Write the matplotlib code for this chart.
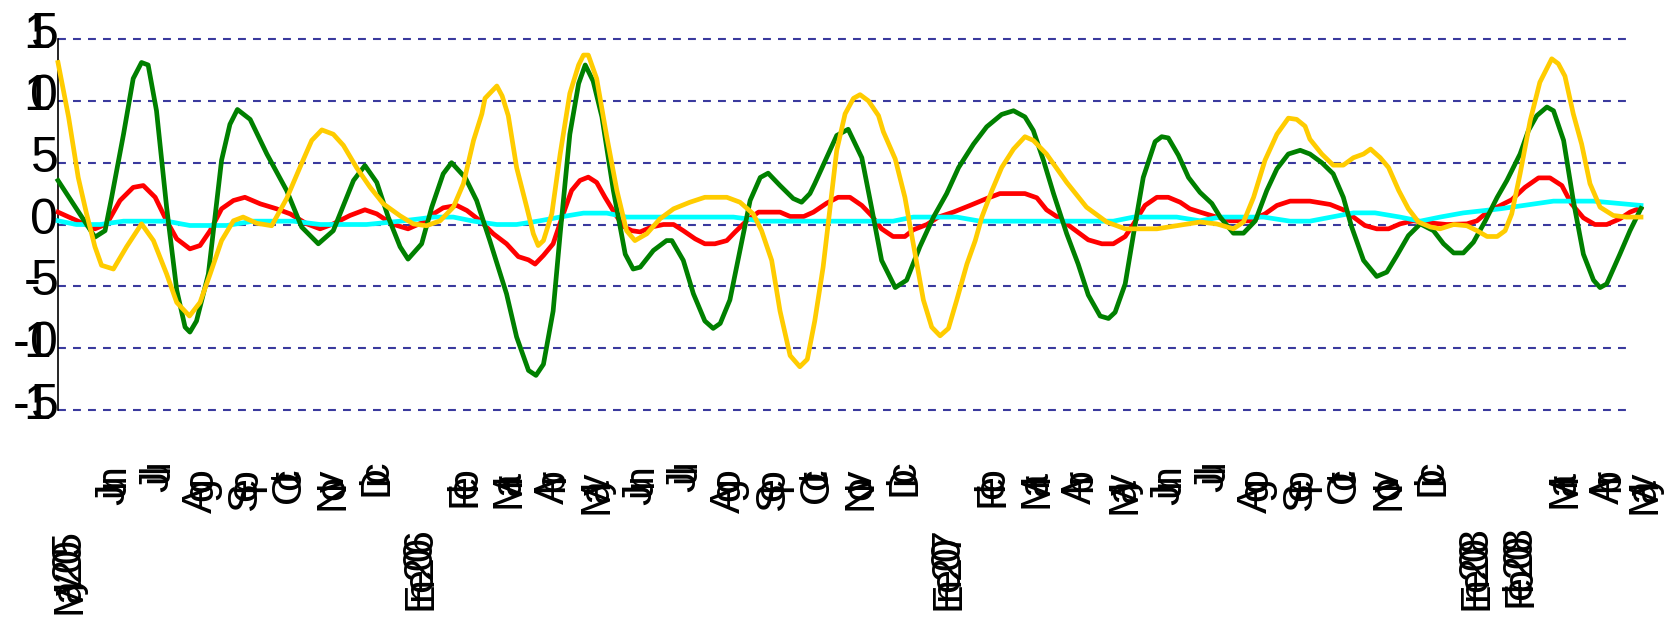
import matplotlib
matplotlib.use("Agg")
import matplotlib.pyplot as plt
from matplotlib.transforms import IdentityTransform

# x values are month offsets: 0 = May 2005, 36 = May 2008
red_x = [0, 0.5, 0.84, 1.11, 1.41, 1.71, 1.94, 2.21, 2.47, 2.7, 3.0, 3.23, 3.46, 3.72, 3.99,
         4.25, 4.6, 4.97, 5.28, 5.66, 5.96, 6.26, 6.64, 6.98, 7.25, 7.59, 7.96, 8.31, 8.54, 8.76,
         9.07, 9.3, 9.6, 9.9, 10.2, 10.47, 10.7, 10.85, 11.04, 11.26, 11.49, 11.68, 11.87, 12.06,
         12.25, 12.44, 12.67, 12.86, 13.05, 13.24, 13.5, 13.77, 14.0, 14.22, 14.49, 14.71, 14.94,
         15.21, 15.4, 15.66, 15.93, 16.19, 16.42, 16.65, 16.96, 17.18, 17.48, 17.74, 18.01, 18.28,
         18.5, 18.73, 18.99, 19.26, 19.45, 19.76, 20.02, 20.36, 20.74, 21.12, 21.42, 21.73, 21.99,
         22.26, 22.48, 22.79, 23.09, 23.43, 23.74, 24.0, 24.27, 24.46, 24.72, 24.99, 25.25, 25.52,
         25.74, 26.0, 26.3, 26.66, 27.12, 27.45, 27.72, 28.02, 28.47, 28.93, 29.23, 29.46, 29.72,
         29.99, 30.26, 30.52, 30.82, 31.28, 31.58, 32.04, 32.27, 32.5, 32.8, 33.06, 33.36, 33.67,
         33.93, 34.2, 34.42, 34.69, 34.95, 35.22, 35.52, 35.75, 36]
red_y = [1.0, 0.2, -0.35, 0.05, 1.94, 3.0, 3.15, 2.2, 0.3, -1.16, -1.97, -1.7, -0.5, 1.27, 1.94,
         2.2, 1.67, 1.27, 0.86, 0.05, -0.35, 0.05, 0.73, 1.19, 0.86, 0.05, -0.35, 0.2, 0.86, 1.35,
         1.54, 1.13, 0.3, -0.75, -1.56, -2.6, -2.86, -3.2, -2.5, -1.56, 0.86, 2.75, 3.56, 3.83,
         3.4, 2.2, 0.86, -0.16, -0.5, -0.6, -0.2, 0.0, 0.0, -0.5, -1.16, -1.56, -1.56,
         -1.3, -0.6, 0.3, 1.0, 1.0, 1.0, 0.65, 0.65, 1.0, 1.72, 2.2, 2.2, 1.54,
         0.73, -0.35, -0.97, -0.97, -0.43, 0.0, 0.6, 1.0, 1.54, 2.1, 2.5, 2.5, 2.5,
         2.16, 1.19, 0.46, -0.35, -1.24, -1.56, -1.56, -0.97, 0.05, 1.54, 2.2, 2.2, 1.8,
         1.27, 0.97, 0.65, 0.3, 0.3, 0.86, 1.54, 1.89, 1.89, 1.62, 1.19, 0.6, -0.08,
         -0.35, -0.35, 0.05, 0.3, 0.1, 0.0, 0.05, 0.3, 1.0, 1.54, 2.0, 3.0, 3.77,
         3.77, 3.15, 1.67, 0.54, 0.0, 0.0, 0.46, 1.0, 1.35]

green_x = [0, 0.84, 1.07, 1.22, 1.49, 1.71, 1.9, 2.05, 2.24, 2.47, 2.7, 2.89, 3.0, 3.15, 3.42,
           3.72, 3.91, 4.08, 4.37, 4.75, 5.2, 5.54, 5.92, 6.26, 6.72, 6.98, 7.25, 7.51, 7.78, 7.96,
           8.27, 8.5, 8.76, 8.95, 9.26, 9.52, 9.82, 10.2, 10.43, 10.7, 10.87, 11.04, 11.26, 11.42,
           11.64, 11.84, 11.99, 12.17, 12.37, 12.63, 12.9, 13.08, 13.24, 13.54, 13.84, 13.96, 14.22,
           14.45, 14.71, 14.9, 15.06, 15.28, 15.51, 15.74, 15.97, 16.15, 16.42, 16.72, 16.91, 17.1,
           17.21, 17.48, 17.71, 17.97, 18.28, 18.5, 18.73, 19.04, 19.3, 19.6, 19.91, 20.21, 20.48,
           20.82, 21.12, 21.46, 21.73, 21.99, 22.18, 22.41, 22.64, 22.94, 23.2, 23.43, 23.7, 23.89,
           24.04, 24.27, 24.46, 24.68, 24.95, 25.1, 25.25, 25.48, 25.71, 25.97, 26.24, 26.43, 26.73,
           26.96, 27.23, 27.49, 27.72, 27.98, 28.25, 28.47, 28.74, 29.0, 29.23, 29.42, 29.69, 29.99,
           30.22, 30.45, 30.71, 30.98, 31.28, 31.51, 31.74, 31.96, 32.19, 32.46, 32.73, 32.95, 33.25,
           33.44, 33.63, 33.86, 34.01, 34.24, 34.46, 34.69, 34.92, 35.07, 35.22, 35.52, 35.75, 36]
green_y = [3.56, -1.02, -0.5, 2.2, 7.3, 11.8, 13.1, 12.9, 9.2, 1.4, -5.3, -8.3, -8.7, -7.8, -4.0,
           5.2, 8.1, 9.3, 8.5, 5.7, 2.75, -0.2, -1.56, -0.5, 3.56, 4.77, 3.4, 0.6, -1.8, -2.8,
           -1.56, 1.4, 4.1, 5.0, 3.8, 1.94, -1.3, -5.6, -9.1, -11.8, -12.2, -11.3, -7.0, -0.75,
           7.3, 11.4, 12.9, 11.6, 8.7, 2.75, -2.4, -3.6, -3.45, -2.1, -1.3, -1.3, -2.9,
           -5.6, -7.8, -8.4, -8.0, -6.1, -2.1, 1.94, 3.8, 4.15, 3.15, 2.1, 1.8, 2.5,
           3.3, 5.4, 7.2, 7.7, 5.4, 1.4, -2.9, -5.1, -4.5, -1.8, 0.6, 2.5, 4.6,
           6.5, 7.9, 8.9, 9.2, 8.7, 7.6, 5.2, 2.5, -0.75, -3.2, -5.7, -7.4, -7.6,
           -7.1, -4.8, -0.75, 3.8, 6.7, 7.1, 7.0, 5.6, 3.8, 2.6, 1.7, 0.6, -0.7,
           -0.7, 0.3, 2.75, 4.5, 5.7, 6.0, 5.7, 5.0, 4.1, 2.2, -0.2, -2.9, -4.2,
           -3.85, -2.5, -0.9, 0.05, -0.5, -1.56, -2.3, -2.3, -1.43, 0.3, 2.2, 3.56, 5.7,
           7.6, 8.8, 9.5, 9.2, 6.8, 1.94, -2.4, -4.5, -5.1, -4.8, -2.4, -0.5, 1.3]

gold_x = [0, 0.24, 0.46, 0.65, 0.84, 0.99, 1.26, 1.56, 1.9, 2.17, 2.47, 2.7, 2.99, 3.23, 3.46,
          3.72, 3.99, 4.21, 4.52, 4.86, 5.2, 5.5, 5.77, 6.0, 6.26, 6.49, 6.79, 7.1, 7.4, 7.78,
          8.08, 8.38, 8.69, 8.99, 9.22, 9.45, 9.64, 9.71, 9.98, 10.1, 10.24, 10.43, 10.66, 10.81,
          10.92, 11.04, 11.23, 11.42, 11.64, 11.84, 11.95, 12.06, 12.25, 12.48, 12.71, 12.93, 13.12,
          13.39, 13.69, 14.0, 14.37, 14.71, 15.21, 15.51, 15.81, 16.0, 16.23, 16.42, 16.65, 16.87,
          17.04, 17.21, 17.4, 17.56, 17.71, 17.9, 18.09, 18.24, 18.43, 18.66, 18.77, 19.04, 19.26,
          19.45, 19.68, 19.87, 20.06, 20.25, 20.44, 20.67, 20.86, 21.01, 21.24, 21.46, 21.73, 21.99,
          22.18, 22.48, 22.94, 23.39, 23.85, 24.27, 24.99, 25.44, 25.97, 26.35, 26.73, 26.96, 27.19,
          27.45, 27.72, 27.98, 28.17, 28.36, 28.47, 28.74, 29.0, 29.23, 29.46, 29.69, 29.85, 30.07,
          30.26, 30.49, 30.71, 30.94, 31.21, 31.43, 31.74, 32.04, 32.27, 32.5, 32.73, 32.91, 33.06,
          33.25, 33.48, 33.7, 33.97, 34.12, 34.27, 34.46, 34.65, 34.84, 35.07, 35.37, 35.67, 36]
gold_y = [13.1, 8.7, 3.8, 0.86, -1.8, -3.3, -3.6, -1.8, 0.05, -1.3, -4.0, -6.3, -7.4, -6.3, -4.0,
          -1.3, 0.3, 0.6, 0.1, -0.1, 2.1, 4.6, 6.8, 7.65, 7.3, 6.4, 4.6, 3.0, 1.67, 0.7,
          0.05, -0.1, 0.3, 1.4, 3.3, 6.8, 8.95, 10.2, 11.2, 10.4, 8.8, 4.6, 1.4, -0.75,
          -1.7, -1.3, 0.86, 5.7, 10.6, 12.9, 13.7, 13.7, 11.8, 7.1, 2.75, -0.5, -1.3,
          -0.75, 0.46, 1.27, 1.8, 2.2, 2.2, 1.8, 0.86, -0.5, -2.9, -7.0, -10.6, -11.5,
          -10.9, -7.8, -3.45, 1.4, 6.0, 8.95, 10.2, 10.5, 10.0, 8.8, 7.5, 5.3, 2.2,
          -1.56, -6.1, -8.3, -9.0, -8.4, -6.1, -3.2, -1.3, 0.6, 2.75, 4.6, 6.1, 7.1,
          6.8, 5.7, 3.4, 1.4, 0.2, -0.35, -0.35, -0.1, 0.2, 0.05, -0.35, 0.2, 2.2,
          5.2, 7.3, 8.6, 8.5, 7.95, 6.9, 5.7, 4.8, 4.8, 5.4, 5.7, 6.1, 5.4,
          4.6, 2.75, 1.27, 0.2, -0.2, -0.35, 0.0, -0.1, -0.5, -0.97, -0.97, -0.5, 0.86,
          4.1, 8.4, 11.5, 13.4, 13.0, 12.0, 8.95, 6.5, 3.3, 1.4, 0.73, 0.6, 0.6]

cyan_x = [0, 0.42, 0.96, 1.49, 2.47, 3.0, 3.84, 4.44, 5.35, 5.96, 7.02, 7.78, 8.23, 8.54, 8.99,
          9.45, 9.98, 10.43, 10.96, 11.49, 11.95, 12.48, 12.93, 13.46, 15.36, 15.66, 15.97, 18.99,
          19.45, 20.44, 20.97, 24.0, 24.46, 25.44, 25.97, 26.43, 27.42, 28.02, 28.47, 29.46, 29.95,
          30.52, 30.98, 31.43, 31.96, 32.8, 33.33, 34.01, 34.92, 36]
cyan_y = [0.3, 0.0, 0.0, 0.27, 0.27, -0.08, -0.08, 0.27, 0.27, 0.0, 0.0, 0.27, 0.46, 0.6, 0.6,
          0.27, 0.0, 0.0, 0.3, 0.65, 0.92, 0.92, 0.6, 0.6, 0.6, 0.46, 0.27, 0.27,
          0.6, 0.6, 0.27, 0.27, 0.6, 0.6, 0.3, 0.6, 0.6, 0.27, 0.27, 0.94, 0.94,
          0.6, 0.27, 0.6, 0.94, 1.27, 1.54, 1.89, 1.89, 1.54]

x_labels = ['May 2005', 'Jun', 'Jul', 'Ago', 'Sep', 'Oct', 'Nov', 'Dic',
            'Ene 2006', 'Feb', 'Mar', 'Abr', 'May', 'Jun', 'Jul', 'Ago', 'Sep', 'Oct', 'Nov', 'Dic',
            'Ene 2007', 'Feb', 'Mar', 'Abr', 'May', 'Jun', 'Jul', 'Ago', 'Sep', 'Oct', 'Nov', 'Dic',
            'Ene 2008', 'Feb 2008', 'Mar', 'Abr', 'May']
y_ticks = [15, 10, 5, 0, -5, -10, -15]
y_labels = ['15', '10', '5', '0', '-5', '-10', '-15']

# Arial-style advance widths and left bearings (em units); the original squeezes its labels
ADV = {'0': .556, '1': .556, '2': .556, '3': .556, '4': .556, '5': .556, '6': .556,
       '7': .556, '8': .556, '9': .556, '-': .333, ' ': .278,
       'A': .667, 'D': .722, 'E': .667, 'F': .611, 'J': .5, 'M': .833, 'N': .722,
       'O': .778, 'S': .667, 'a': .556, 'b': .556, 'c': .5, 'e': .556, 'g': .556,
       'i': .222, 'l': .222, 'n': .556, 'o': .556, 'p': .556, 'r': .333, 't': .278,
       'u': .556, 'v': .5, 'y': .5}
LSB = {'1': .109, '-': .044, 'J': .027, 'A': 0.0, 'i': .067, 'l': .067, 'v': .01, 'y': .01,
       't': .02, 'M': .074, 'N': .076, 'D': .081, 'E': .079, 'F': .083}

W, H = 1667, 624
FONT = 'Liberation Sans'
fig = plt.figure(figsize=(W / 100, H / 100), dpi=100)
ax = fig.add_axes([58 / W, 1 - 410 / H, (1641 - 58) / W, (410 - 39) / H])
ax.set_xlim(0, 36)
ax.set_ylim(-15, 15)
for s in ['top', 'right', 'bottom']:
    ax.spines[s].set_visible(False)
ax.spines['left'].set_linewidth(1.2)
ax.tick_params(left=False, bottom=False, labelleft=False, labelbottom=False)

for yv in y_ticks:
    ax.axhline(yv, xmin=0, xmax=35.82 / 36, color='#3a3a9e', lw=1.5,
               ls=(0, (3.8, 3.4)), zorder=1, clip_on=False)

for xs, ys, col in [(red_x, red_y, '#ff0000'), (cyan_x, cyan_y, '#00ffff'),
                    (green_x, green_y, '#008000'), (gold_x, gold_y, '#ffcc00')]:
    ax.plot(xs, ys, color=col, lw=3.4, clip_on=False, zorder=3)


def put_chars(x0, y0, text, size, step, vertical):
    # glyphs drawn one by one, origins `step` px apart per em of advance
    # (x0, y0) is the origin of the first glyph in image pixels, y pointing down
    em = size / 72 * 100
    pos = 0.0
    for ch in text:
        if ch != ' ':
            ink = pos + LSB.get(ch, .04) * em
            if vertical:
                fig.text(x0, H - (y0 - ink), ch, rotation=90, rotation_mode='anchor',
                         ha='left', va='baseline', fontsize=size, family=FONT,
                         transform=IdentityTransform())
            else:
                fig.text(x0 + ink, H - y0, ch, ha='left', va='baseline', fontsize=size,
                         family=FONT, transform=IdentityTransform())
        pos += ADV[ch] * step


# y tick labels: last glyph sits against the axis
size_y, step_y = 36, 20
em_y = size_y / 72 * 100
for yv, lab in zip(y_ticks, y_labels):
    y_img = H - ax.transData.transform((0, yv))[1]
    last_origin = 30.5 - LSB.get(lab[-1], .04) * em_y
    start = last_origin - step_y * sum(ADV[c] for c in lab[:-1])
    put_chars(start, y_img + 9, lab, size_y, step_y, False)

# x tick labels, one per month, read bottom to top
size_x, step_x = 31, 16
em_x = size_x / 72 * 100
for m, lab in enumerate(x_labels):
    x_img = ax.transData.transform((m, 0))[0]
    baseline = min(x_img + 22, W - 0.22 * em_x - 2)   # keep the last label inside
    bottom = 442 + 40 * sum(ADV[c] for c in lab)
    put_chars(baseline, bottom, lab, size_x, step_x, True)

fig.savefig('out.png', dpi=100)
